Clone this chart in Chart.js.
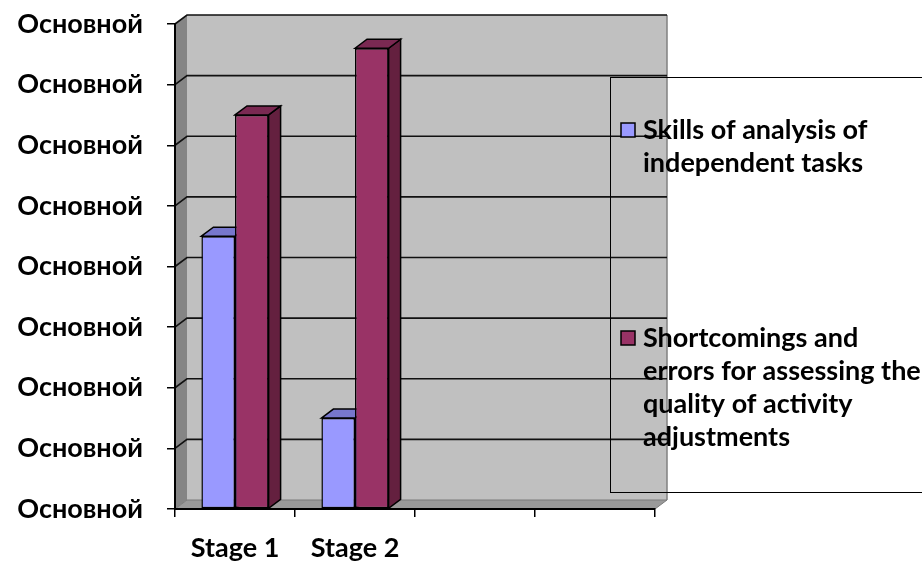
<!DOCTYPE html>
<html lang="en">
  <head>
    <meta charset="UTF-8" />
    <title>Stage comparison</title>
    <script src="https://cdn.jsdelivr.net/npm/chart.js"></script>
    <style>
      body {
        margin: 0;
        background: #fff;
      }
    </style>
  </head>
  <body>
    <canvas id="plot" width="922" height="563"></canvas>
    <script>
      const stages = ["Stage 1", "Stage 2", "", ""];
      const skillsValues = [4.5, 1.5, null, null];
      const errorValues = [6.5, 7.6, null, null];
      const seriesNames = [
        "Skills of analysis of independent tasks",
        "Shortcomings and errors for assessing the quality of activity adjustments",
      ];
      // how the legend breaks each series name
      const legendLines = [
        ["Skills of analysis of", "independent tasks"],
        ["Shortcomings and", "errors for assessing the", "quality of activity", "adjustments"],
      ];
      const yTickText = "Основной";

      const FONT = 'Lato, "Open Sans", sans-serif';
      const FONT_SIZE = 27;
      // depth of the fake 3d box (back wall shifted right/up)
      const DX = 12;
      const DY = -9;

      function poly(ctx, pts, fill, stroke, lw) {
        ctx.beginPath();
        ctx.moveTo(pts[0][0], pts[0][1]);
        for (let i = 1; i < pts.length; i++) ctx.lineTo(pts[i][0], pts[i][1]);
        ctx.closePath();
        if (fill) {
          ctx.fillStyle = fill;
          ctx.fill();
        }
        if (stroke) {
          ctx.strokeStyle = stroke;
          ctx.lineWidth = lw || 1;
          ctx.stroke();
        }
      }

      const box3d = {
        id: "box3d",
        beforeDraw(chart) {
          const { ctx, chartArea: a, scales } = chart;
          ctx.save();
          // back wall
          ctx.fillStyle = "#c0c0c0";
          ctx.fillRect(a.left + DX, a.top + DY, a.right - a.left, a.bottom - a.top);
          ctx.strokeStyle = "#808080";
          ctx.lineWidth = 1.5;
          ctx.beginPath();
          ctx.moveTo(a.right + DX, a.top + DY);
          ctx.lineTo(a.right + DX, a.bottom + DY);
          ctx.stroke();
          // left side wall
          poly(ctx, [[a.left, a.top], [a.left + DX, a.top + DY], [a.left + DX, a.bottom + DY], [a.left, a.bottom]], "#858585");
          // floor
          poly(ctx, [[a.left, a.bottom], [a.left + DX, a.bottom + DY], [a.right + DX, a.bottom + DY], [a.right, a.bottom]], "#9a9a9a", "#7a7a7a", 1);
          // grid lines on side and back wall
          ctx.strokeStyle = "#111";
          ctx.lineWidth = 1.6;
          scales.y.ticks.forEach((t) => {
            if (t.value === 0) return;
            const y = scales.y.getPixelForValue(t.value);
            ctx.beginPath();
            ctx.moveTo(a.left, y);
            ctx.lineTo(a.left + DX, y + DY);
            ctx.lineTo(a.right + DX, y + DY);
            ctx.stroke();
          });
          ctx.restore();
        },
        beforeDatasetsDraw(chart) {
          const ctx = chart.ctx;
          ctx.save();
          chart.data.datasets.forEach((ds, i) => {
            chart.getDatasetMeta(i).data.forEach((bar, j) => {
              if (ds.data[j] == null) return;
              const l = bar.x - bar.width / 2;
              const r = bar.x + bar.width / 2;
              const t = bar.y;
              const b = bar.base;
              poly(ctx, [[r, t], [r + DX, t + DY], [r + DX, b + DY], [r, b]], ds.sideColor, "#000", 1.5);
              poly(ctx, [[l, t], [l + DX, t + DY], [r + DX, t + DY], [r, t]], ds.topColor, "#000", 1.5);
            });
          });
          ctx.restore();
        },
        afterDraw(chart) {
          const ctx = chart.ctx;
          ctx.save();
          // legend frame (no fill, runs off the right edge)
          ctx.strokeStyle = "#000";
          ctx.lineWidth = 1;
          ctx.strokeRect(610.5, 77.5, 330, 415);
          ctx.font = "bold " + FONT_SIZE + "px " + FONT;
          ctx.textBaseline = "middle";
          const starts = [130, 338];
          chart.data.datasets.forEach((ds, i) => {
            const y0 = starts[i];
            ctx.fillStyle = ds.backgroundColor;
            ctx.fillRect(621, y0 - 7, 14, 14);
            ctx.strokeStyle = "#000";
            ctx.lineWidth = 1.5;
            ctx.strokeRect(621, y0 - 7, 14, 14);
            ctx.fillStyle = "#000";
            legendLines[i].forEach((ln, k) => ctx.fillText(ln, 643, y0 + k * 33));
          });
          ctx.restore();
        },
      };

      Chart.defaults.font.family = FONT;
      Chart.defaults.font.weight = "bold";
      Chart.defaults.font.size = FONT_SIZE;
      Chart.defaults.color = "#000";

      new Chart(document.getElementById("plot"), {
        type: "bar",
        data: {
          labels: stages,
          datasets: [
            {
              label: seriesNames[0],
              data: skillsValues,
              backgroundColor: "#9999ff",
              topColor: "#7777cc",
              sideColor: "#5f5fb0",
              borderColor: "#000",
              borderWidth: 1.5,
              borderSkipped: false,
            },
            {
              label: seriesNames[1],
              data: errorValues,
              backgroundColor: "#993366",
              topColor: "#7a2952",
              sideColor: "#64203f",
              borderColor: "#000",
              borderWidth: 1.5,
              borderSkipped: false,
            },
          ],
        },
        options: {
          responsive: false,
          animation: false,
          layout: { padding: { top: 24, right: 267, bottom: 0, left: 0 } },
          datasets: {
            bar: { categoryPercentage: 0.56, barPercentage: 1.0 },
          },
          plugins: {
            legend: { display: false },
            tooltip: { enabled: false },
          },
          scales: {
            x: {
              grid: {
                offset: true,
                drawOnChartArea: false,
                drawTicks: true,
                tickLength: 8,
                color: "#000",
                lineWidth: 1.5,
              },
              border: { display: true, color: "#000", width: 2 },
              ticks: { padding: 15, maxRotation: 0, autoSkip: false },
              afterFit(s) {
                s.height = 54;
              },
            },
            y: {
              min: 0,
              max: 8,
              ticks: {
                stepSize: 1,
                padding: 24,
                callback: () => yTickText,
              },
              grid: {
                drawOnChartArea: false,
                drawTicks: true,
                tickLength: 8,
                color: "#000",
                lineWidth: 1.5,
              },
              border: { display: true, color: "#000", width: 2 },
              afterFit(s) {
                s.width = 175;
                s.paddingTop = 0;
                s.paddingBottom = 0;
              },
            },
          },
        },
        plugins: [box3d],
      });
    </script>
  </body>
</html>
